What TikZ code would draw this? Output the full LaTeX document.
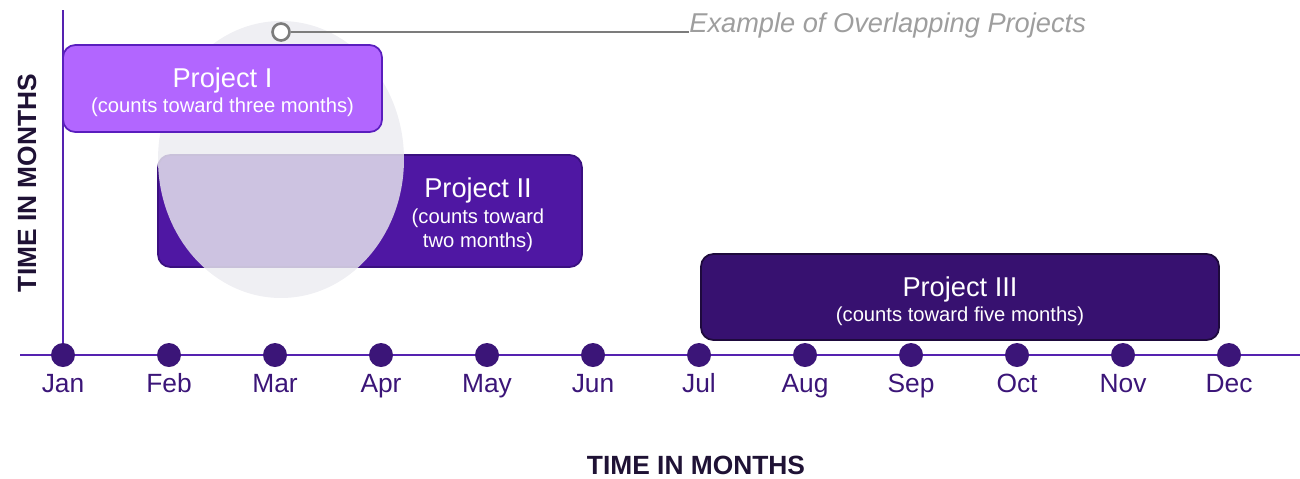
\documentclass[tikz,border=0pt]{standalone}
\usepackage{fontspec}
\setmainfont{Liberation Sans}
\usetikzlibrary{positioning}

\definecolor{projone}{HTML}{B266FF}
\definecolor{projoneline}{HTML}{5A1EBE}
\definecolor{projtwo}{HTML}{4F17A3}
\definecolor{projtwoline}{HTML}{3A1080}
\definecolor{projthree}{HTML}{371170}
\definecolor{projthreeline}{HTML}{1E0A3C}
\definecolor{dotcol}{HTML}{3B1578}
\definecolor{axiscol}{HTML}{5522B0}
\definecolor{titlecol}{HTML}{1F1235}
\definecolor{notegray}{HTML}{9E9E9E}
\definecolor{notelinegray}{HTML}{7C7C7C}
\definecolor{overlapcol}{RGB}{235,235,240}

\tikzset{
  projbox/.style={rounded corners=7pt, line width=1pt, inner sep=0pt},
  projtitle/.style={text=white, font=\fontsize{15.5}{18}\selectfont, inner sep=0pt, anchor=base},
  projnote/.style={text=white, font=\fontsize{11.5}{14}\selectfont, inner sep=0pt, anchor=base},
  monthdot/.style={circle, fill=dotcol, minimum size=0.48cm, inner sep=0pt},
  monthlbl/.style={text=dotcol, font=\fontsize{15}{18}\selectfont, inner sep=0pt, text height=11pt, text depth=3pt},
  axistitle/.style={text=titlecol, font=\bfseries\fontsize{15}{18}\selectfont, inner sep=0pt},
  notering/.style={circle, draw=notelinegray, fill=white, line width=1.5pt, minimum size=0.34cm, inner sep=0pt},
  notetext/.style={text=notegray, font=\itshape\fontsize{15.5}{18}\selectfont, inner sep=0pt, anchor=base west},
}

\begin{document}
\begin{tikzpicture}[x=0.02cm, y=-0.02cm]
    \useasboundingbox (0,0) rectangle (1300,478);

    \draw[axiscol, line width=1.6pt] (63,10) -- (63,355);
    \draw[axiscol, line width=1.1pt] (20,355) -- (1300,355);

    \node[projbox, fill=projtwo, draw=projtwoline, minimum width=8.48cm, minimum height=2.24cm] (box2) at (370,211) {};
    \fill[overlapcol, opacity=0.81] (281,159.5) ellipse [x radius=2.46cm, y radius=2.77cm];
    \node[projbox, fill=projone, draw=projoneline, minimum width=6.38cm, minimum height=1.74cm] (box1) at (222.5,88.5) {};
    \node[projbox, fill=projthree, draw=projthreeline, minimum width=10.36cm, minimum height=1.72cm] (box3) at (960,297) {};

    \node[projtitle] (title1) at (222.5,87) {Project I};
    \node[projnote] (note1) at (222.5,112) {(counts toward three months)};
    \node[projtitle] (title2) at (478,197.5) {Project II};
    \node[projnote] (note2a) at (478,223) {(counts toward};
    \node[projnote] (note2b) at (478,247) {two months)};
    \node[projtitle] (title3) at (960,296.5) {Project III};
    \node[projnote] (note3) at (960,321) {(counts toward five months)};

    \node[notering] (ring) at (281,32) {};
    \node[notetext] (overlap) at (689,32) {Example of Overlapping Projects};
    \draw[notelinegray, line width=1.1pt] (ring.east) -- (overlap.base west);

    \foreach \mon [count=\i] in {Jan,Feb,Mar,Apr,May,Jun,Jul,Aug,Sep,Oct,Nov,Dec} {
        \pgfmathsetmacro\xx{63+106*(\i-1)}
        \node[monthdot] (m\i) at (\xx,355) {};
        \node[monthlbl, below=3pt of m\i] (lbl\i) {\mon};
    }

    \node[axistitle, rotate=90] (ytitle) at (27,183) {TIME IN MONTHS};
    \node[axistitle] (xtitle) at (696,465) {TIME IN MONTHS};
\end{tikzpicture}
\end{document}
